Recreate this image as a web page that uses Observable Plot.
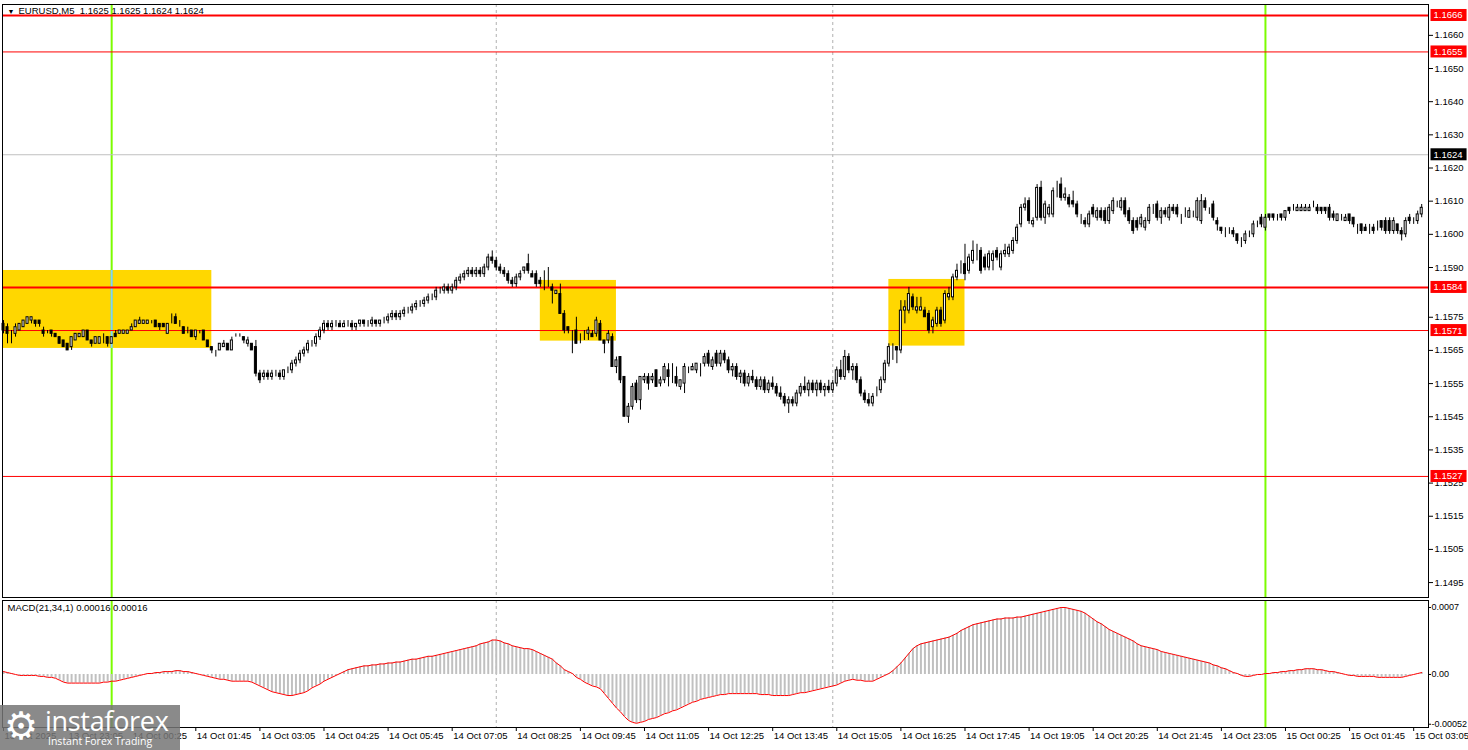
<!DOCTYPE html>
<html>
<head>
<meta charset="utf-8">
<script src="https://cdn.jsdelivr.net/npm/d3@7"></script>
<script src="https://cdn.jsdelivr.net/npm/@observablehq/plot@0.6"></script>
<style>
  html, body { margin: 0; padding: 0; background: #fff; }
  #chart { position: relative; width: 1468px; height: 750px; overflow: hidden; background: #fff; }
  #chart svg { position: absolute; left: 0; }
  #logo { position: absolute; left: 0; top: 705px; width: 180px; height: 45px; background: rgba(118,118,118,0.85); color: #fff; font-family: "Open Sans", "Liberation Sans", Arial, sans-serif; }
  #logo .gear { position: absolute; left: 4px; top: 2px; font-size: 38px; line-height: 38px; font-family: "DejaVu Sans", sans-serif; }
  #logo .big { position: absolute; left: 45px; top: 0px; font-size: 27px; line-height: 32px; letter-spacing: -0.3px; }
  #logo .small { position: absolute; left: 48px; top: 29px; font-size: 10.5px; line-height: 14px; }
</style>
</head>
<body>
<div id="chart"></div>
<script>
// ---------------- DATA (EURUSD, M5, bar 0 = 13 Oct 21:45) ----------------
const opens = [
1.1573,1.1572,1.1570,1.1570,1.1571,1.1572,1.1573,1.1574,1.1574,1.1574,
1.1571,1.1571,1.1571,1.1570,1.1569,1.1568,1.1567,1.1566,1.1568,1.1569,
1.1569,1.1571,1.1568,1.1567,1.1567,1.1569,1.1569,1.1567,1.1570,1.1570,
1.1570,1.1570,1.1571,1.1572,1.1573,1.1573,1.1573,1.1574,1.1574,1.1573,
1.1573,1.1570,1.1574,1.1575,1.1573,1.1572,1.1571,1.1571,1.1569,1.1571,
1.1571,1.1568,1.1566,1.1565,1.1565,1.1566,1.1567,1.1565,1.1569,1.1569,
1.1569,1.1567,1.1567,1.1566,1.1558,1.1557,1.1558,1.1557,1.1558,1.1558,
1.1557,1.1559,1.1559,1.1561,1.1562,1.1564,1.1565,1.1567,1.1567,1.1569,
1.1571,1.1573,1.1572,1.1573,1.1573,1.1572,1.1573,1.1573,1.1572,1.1573,
1.1574,1.1573,1.1573,1.1574,1.1573,1.1574,1.1574,1.1575,1.1576,1.1575,
1.1576,1.1577,1.1577,1.1578,1.1579,1.1579,1.1580,1.1581,1.1581,1.1583,
1.1583,1.1584,1.1583,1.1584,1.1586,1.1587,1.1588,1.1589,1.1588,1.1589,
1.1588,1.1590,1.1593,1.1592,1.1590,1.1589,1.1588,1.1586,1.1585,1.1587,
1.1589,1.1591,1.1588,1.1588,1.1586,1.1585,1.1585,1.1584,1.1582,1.1582,
1.1576,1.1572,1.1570,1.1571,1.1569,1.1570,1.1570,1.1570,1.1570,1.1573,
1.1568,1.1568,1.1569,1.1560,1.1563,1.1557,1.1545,1.1548,1.1555,1.1550,
1.1556,1.1557,1.1556,1.1559,1.1555,1.1556,1.1559,1.1557,1.1557,1.1554,
1.1555,1.1559,1.1559,1.1559,1.1560,1.1561,1.1564,1.1560,1.1564,1.1561,
1.1564,1.1562,1.1559,1.1560,1.1557,1.1558,1.1555,1.1557,1.1556,1.1554,
1.1556,1.1553,1.1555,1.1554,1.1552,1.1551,1.1549,1.1550,1.1549,1.1552,
1.1554,1.1553,1.1555,1.1553,1.1555,1.1553,1.1554,1.1553,1.1555,1.1559,
1.1557,1.1563,1.1559,1.1560,1.1556,1.1552,1.1550,1.1549,1.1552,1.1553,
1.1556,1.1561,1.1566,1.1566,1.1565,1.1577,1.1577,1.1581,1.1577,1.1577,
1.1577,1.1576,1.1572,1.1573,1.1577,1.1574,1.1581,1.1581,1.1587,1.1590,
1.1591,1.1589,1.1592,1.1594,1.1595,1.1593,1.1590,1.1592,1.1595,1.1590,
1.1594,1.1594,1.1595,1.1598,1.1603,1.1608,1.1610,1.1603,1.1605,1.1614,
1.1605,1.1606,1.1606,1.1613,1.1615,1.1611,1.1611,1.1610,1.1609,1.1605,
1.1604,1.1603,1.1608,1.1605,1.1607,1.1607,1.1604,1.1607,1.1609,1.1608,
1.1610,1.1607,1.1604,1.1604,1.1603,1.1602,1.1604,1.1607,1.1609,1.1605,
1.1607,1.1605,1.1608,1.1608,1.1605,1.1607,1.1605,1.1606,1.1605,1.1604,
1.1610,1.1607,1.1609,1.1604,1.1602,1.1601,1.1601,1.1601,1.1600,1.1598,
1.1598,1.1600,1.1600,1.1603,1.1605,1.1602,1.1606,1.1606,1.1605,1.1606,
1.1605,1.1608,1.1608,1.1607,1.1607,1.1607,1.1607,1.1608,1.1608,1.1608,
1.1608,1.1608,1.1606,1.1604,1.1605,1.1604,1.1606,1.1605,1.1602,1.1603,
1.1602,1.1602,1.1602,1.1602,1.1604,1.1604,1.1604,1.1601,1.1603,1.1601,
1.1600,1.1605,1.1604,1.1604,1.1606
];
const highs = [
1.1574,1.1573,1.1571,1.1573,1.1573,1.1574,1.1575,1.1575,1.1574,1.1574,
1.1572,1.1571,1.1571,1.1570,1.1569,1.1568,1.1567,1.1569,1.1570,1.1570,
1.1571,1.1571,1.1568,1.1569,1.1569,1.1570,1.1569,1.1569,1.1571,1.1571,
1.1571,1.1571,1.1573,1.1574,1.1575,1.1574,1.1574,1.1574,1.1574,1.1573,
1.1573,1.1573,1.1576,1.1576,1.1574,1.1572,1.1572,1.1571,1.1571,1.1571,
1.1571,1.1568,1.1566,1.1565,1.1567,1.1568,1.1567,1.1569,1.1570,1.1570,
1.1569,1.1569,1.1567,1.1568,1.1559,1.1559,1.1559,1.1559,1.1559,1.1559,
1.1559,1.1560,1.1562,1.1563,1.1565,1.1566,1.1568,1.1568,1.1570,1.1572,
1.1574,1.1574,1.1574,1.1574,1.1574,1.1574,1.1574,1.1574,1.1573,1.1574,
1.1574,1.1574,1.1575,1.1574,1.1574,1.1575,1.1576,1.1577,1.1577,1.1577,
1.1578,1.1578,1.1579,1.1580,1.1580,1.1581,1.1582,1.1582,1.1584,1.1584,
1.1585,1.1585,1.1585,1.1587,1.1588,1.1589,1.1590,1.1590,1.1590,1.1590,
1.1591,1.1594,1.1595,1.1593,1.1591,1.1590,1.1589,1.1587,1.1588,1.1589,
1.1590,1.1594,1.1589,1.1589,1.1587,1.1589,1.1590,1.1585,1.1583,1.1585,
1.1577,1.1572,1.1571,1.1575,1.1570,1.1571,1.1572,1.1571,1.1575,1.1574,
1.1568,1.1571,1.1570,1.1563,1.1563,1.1557,1.1549,1.1555,1.1556,1.1557,
1.1558,1.1558,1.1558,1.1559,1.1557,1.1561,1.1561,1.1561,1.1560,1.1556,
1.1561,1.1560,1.1561,1.1561,1.1561,1.1564,1.1565,1.1563,1.1565,1.1565,
1.1565,1.1563,1.1561,1.1561,1.1559,1.1559,1.1558,1.1559,1.1557,1.1557,
1.1557,1.1556,1.1557,1.1555,1.1554,1.1552,1.1551,1.1551,1.1553,1.1555,
1.1557,1.1556,1.1556,1.1556,1.1556,1.1555,1.1556,1.1556,1.1560,1.1562,
1.1565,1.1564,1.1561,1.1561,1.1557,1.1553,1.1552,1.1552,1.1554,1.1557,
1.1562,1.1567,1.1567,1.1566,1.1580,1.1580,1.1584,1.1582,1.1581,1.1581,
1.1578,1.1577,1.1575,1.1578,1.1578,1.1583,1.1584,1.1588,1.1591,1.1592,
1.1597,1.1594,1.1598,1.1597,1.1596,1.1594,1.1595,1.1595,1.1596,1.1595,
1.1597,1.1597,1.1599,1.1603,1.1609,1.1611,1.1611,1.1605,1.1615,1.1616,
1.1610,1.1609,1.1614,1.1616,1.1617,1.1614,1.1612,1.1613,1.1610,1.1606,
1.1605,1.1607,1.1609,1.1608,1.1608,1.1608,1.1609,1.1611,1.1610,1.1611,
1.1611,1.1608,1.1605,1.1605,1.1606,1.1605,1.1609,1.1609,1.1610,1.1608,
1.1608,1.1609,1.1609,1.1609,1.1606,1.1608,1.1608,1.1607,1.1611,1.1612,
1.1611,1.1608,1.1610,1.1605,1.1602,1.1602,1.1602,1.1602,1.1600,1.1599,
1.1601,1.1601,1.1604,1.1604,1.1606,1.1606,1.1606,1.1606,1.1606,1.1606,
1.1607,1.1608,1.1609,1.1609,1.1609,1.1609,1.1609,1.1610,1.1609,1.1608,
1.1608,1.1609,1.1607,1.1606,1.1606,1.1606,1.1606,1.1605,1.1603,1.1603,
1.1603,1.1603,1.1603,1.1604,1.1604,1.1605,1.1605,1.1605,1.1603,1.1602,
1.1605,1.1606,1.1605,1.1607,1.1609
];
const lows = [
1.1570,1.1567,1.1567,1.1569,1.1571,1.1572,1.1573,1.1573,1.1572,1.1572,
1.1569,1.1570,1.1569,1.1569,1.1567,1.1566,1.1565,1.1565,1.1568,1.1569,
1.1569,1.1568,1.1566,1.1567,1.1567,1.1567,1.1566,1.1567,1.1569,1.1570,
1.1570,1.1570,1.1571,1.1572,1.1573,1.1573,1.1573,1.1573,1.1572,1.1571,
1.1572,1.1570,1.1573,1.1573,1.1572,1.1570,1.1570,1.1569,1.1568,1.1570,
1.1568,1.1566,1.1564,1.1563,1.1565,1.1566,1.1565,1.1565,1.1569,1.1569,
1.1567,1.1566,1.1565,1.1557,1.1555,1.1556,1.1556,1.1556,1.1557,1.1556,
1.1556,1.1558,1.1558,1.1560,1.1561,1.1563,1.1564,1.1566,1.1566,1.1568,
1.1570,1.1571,1.1571,1.1572,1.1572,1.1572,1.1572,1.1571,1.1571,1.1572,
1.1572,1.1572,1.1572,1.1572,1.1572,1.1573,1.1573,1.1574,1.1574,1.1574,
1.1575,1.1576,1.1576,1.1577,1.1578,1.1578,1.1579,1.1580,1.1580,1.1582,
1.1582,1.1582,1.1582,1.1583,1.1585,1.1586,1.1587,1.1587,1.1587,1.1587,
1.1587,1.1589,1.1591,1.1589,1.1588,1.1587,1.1585,1.1584,1.1584,1.1586,
1.1588,1.1588,1.1587,1.1584,1.1584,1.1583,1.1584,1.1579,1.1582,1.1576,
1.1570,1.1570,1.1564,1.1567,1.1567,1.1568,1.1568,1.1569,1.1569,1.1568,
1.1564,1.1567,1.1560,1.1558,1.1555,1.1545,1.1543,1.1547,1.1549,1.1547,
1.1555,1.1553,1.1555,1.1554,1.1554,1.1555,1.1554,1.1555,1.1554,1.1553,
1.1552,1.1558,1.1559,1.1558,1.1557,1.1560,1.1560,1.1559,1.1560,1.1560,
1.1561,1.1558,1.1557,1.1556,1.1555,1.1554,1.1554,1.1555,1.1553,1.1553,
1.1552,1.1552,1.1553,1.1551,1.1550,1.1548,1.1546,1.1548,1.1548,1.1551,
1.1552,1.1551,1.1552,1.1551,1.1552,1.1551,1.1552,1.1552,1.1554,1.1556,
1.1556,1.1558,1.1556,1.1555,1.1551,1.1549,1.1548,1.1548,1.1551,1.1552,
1.1555,1.1560,1.1562,1.1561,1.1564,1.1573,1.1576,1.1577,1.1576,1.1577,
1.1575,1.1570,1.1570,1.1572,1.1572,1.1573,1.1580,1.1580,1.1586,1.1588,
1.1586,1.1588,1.1591,1.1592,1.1588,1.1589,1.1589,1.1589,1.1592,1.1589,
1.1593,1.1593,1.1594,1.1597,1.1602,1.1607,1.1603,1.1602,1.1604,1.1604,
1.1603,1.1605,1.1605,1.1611,1.1610,1.1610,1.1608,1.1608,1.1605,1.1603,
1.1602,1.1602,1.1605,1.1604,1.1604,1.1603,1.1603,1.1606,1.1608,1.1607,
1.1605,1.1603,1.1600,1.1601,1.1602,1.1601,1.1603,1.1606,1.1604,1.1603,
1.1605,1.1604,1.1606,1.1605,1.1603,1.1605,1.1605,1.1605,1.1604,1.1603,
1.1607,1.1606,1.1604,1.1601,1.1600,1.1599,1.1600,1.1599,1.1597,1.1596,
1.1597,1.1599,1.1599,1.1602,1.1602,1.1601,1.1604,1.1604,1.1604,1.1604,
1.1604,1.1606,1.1607,1.1607,1.1607,1.1607,1.1607,1.1608,1.1606,1.1606,
1.1606,1.1604,1.1604,1.1604,1.1604,1.1604,1.1603,1.1602,1.1600,1.1600,
1.1601,1.1600,1.1600,1.1601,1.1601,1.1600,1.1600,1.1600,1.1600,1.1598,
1.1599,1.1603,1.1603,1.1603,1.1605
];
const closes = [
1.1571,1.1570,1.1570,1.1572,1.1573,1.1574,1.1575,1.1575,1.1573,1.1573,
1.1570,1.1571,1.1570,1.1569,1.1567,1.1566,1.1565,1.1569,1.1570,1.1570,
1.1571,1.1568,1.1567,1.1569,1.1569,1.1569,1.1567,1.1569,1.1569,1.1571,
1.1571,1.1571,1.1572,1.1574,1.1574,1.1574,1.1574,1.1574,1.1572,1.1572,
1.1572,1.1573,1.1574,1.1573,1.1573,1.1570,1.1571,1.1569,1.1571,1.1571,
1.1568,1.1566,1.1565,1.1565,1.1567,1.1567,1.1565,1.1568,1.1569,1.1569,
1.1568,1.1568,1.1565,1.1558,1.1556,1.1558,1.1557,1.1558,1.1558,1.1557,
1.1559,1.1559,1.1561,1.1562,1.1564,1.1565,1.1567,1.1567,1.1569,1.1571,
1.1573,1.1572,1.1573,1.1573,1.1572,1.1573,1.1573,1.1572,1.1573,1.1574,
1.1573,1.1573,1.1574,1.1573,1.1574,1.1574,1.1575,1.1576,1.1575,1.1576,
1.1577,1.1577,1.1578,1.1579,1.1579,1.1580,1.1581,1.1581,1.1583,1.1583,
1.1584,1.1583,1.1584,1.1586,1.1587,1.1588,1.1589,1.1588,1.1589,1.1588,
1.1590,1.1593,1.1592,1.1590,1.1589,1.1588,1.1586,1.1585,1.1587,1.1588,
1.1590,1.1589,1.1587,1.1585,1.1585,1.1585,1.1585,1.1583,1.1583,1.1576,
1.1571,1.1571,1.1570,1.1567,1.1569,1.1570,1.1571,1.1569,1.1574,1.1568,
1.1567,1.1570,1.1560,1.1562,1.1556,1.1545,1.1548,1.1554,1.1550,1.1557,
1.1557,1.1555,1.1557,1.1554,1.1556,1.1560,1.1557,1.1557,1.1555,1.1556,
1.1560,1.1559,1.1560,1.1561,1.1560,1.1563,1.1561,1.1562,1.1561,1.1564,
1.1562,1.1559,1.1560,1.1557,1.1558,1.1555,1.1557,1.1556,1.1554,1.1556,
1.1553,1.1555,1.1554,1.1552,1.1551,1.1549,1.1550,1.1549,1.1552,1.1554,
1.1553,1.1555,1.1553,1.1555,1.1553,1.1554,1.1553,1.1555,1.1559,1.1557,
1.1563,1.1559,1.1560,1.1556,1.1552,1.1550,1.1549,1.1551,1.1552,1.1556,
1.1561,1.1566,1.1566,1.1565,1.1577,1.1578,1.1582,1.1578,1.1578,1.1578,
1.1575,1.1571,1.1574,1.1577,1.1573,1.1582,1.1582,1.1587,1.1589,1.1590,
1.1588,1.1593,1.1595,1.1594,1.1589,1.1590,1.1594,1.1594,1.1593,1.1594,
1.1595,1.1596,1.1598,1.1602,1.1608,1.1609,1.1604,1.1604,1.1614,1.1605,
1.1609,1.1608,1.1613,1.1613,1.1611,1.1612,1.1609,1.1609,1.1606,1.1605,
1.1603,1.1606,1.1606,1.1607,1.1605,1.1604,1.1608,1.1610,1.1609,1.1610,
1.1606,1.1604,1.1601,1.1602,1.1605,1.1604,1.1608,1.1607,1.1605,1.1607,
1.1606,1.1608,1.1607,1.1606,1.1605,1.1607,1.1607,1.1606,1.1610,1.1610,
1.1608,1.1607,1.1605,1.1603,1.1601,1.1601,1.1601,1.1600,1.1598,1.1598,
1.1600,1.1600,1.1603,1.1603,1.1603,1.1605,1.1605,1.1605,1.1605,1.1605,
1.1607,1.1607,1.1608,1.1608,1.1608,1.1608,1.1608,1.1608,1.1607,1.1607,
1.1607,1.1605,1.1605,1.1606,1.1605,1.1605,1.1604,1.1603,1.1602,1.1601,
1.1601,1.1602,1.1601,1.1602,1.1602,1.1601,1.1601,1.1604,1.1601,1.1600,
1.1604,1.1604,1.1604,1.1606,1.1608
];
// MACD(21,34,1) main line = signal (signal period 1)
const macd = [
0.00003,0.00002,0.00001,0,-0.00001,-0.00001,-0.00001,-0.00001,-0.00001,-0.00002,
-0.00002,-0.00003,-0.00003,-0.00004,-0.00006,-0.00008,-0.00009,-0.00009,-0.00009,-0.00009,
-0.00009,-0.00009,-0.00009,-0.00009,-0.00009,-0.00008,-0.00008,-0.00007,-0.00007,-0.00006,
-0.00005,-0.00004,-0.00003,-0.00002,-0.00001,0,0.00001,0.00001,0.00002,0.00002,
0.00003,0.00003,0.00003,0.00004,0.00004,0.00003,0.00003,0.00002,0.00001,0,
-0.00001,-0.00002,-0.00003,-0.00004,-0.00005,-0.00005,-0.00006,-0.00007,-0.00007,-0.00007,
-0.00007,-0.00007,-0.00008,-0.0001,-0.00012,-0.00014,-0.00016,-0.00018,-0.00019,-0.0002,
-0.00021,-0.00022,-0.00022,-0.00021,-0.0002,-0.00019,-0.00017,-0.00014,-0.00012,-0.0001,
-0.00007,-0.00005,-0.00003,-0.00001,0.00001,0.00003,0.00005,0.00006,0.00007,0.00008,
0.00009,0.00009,0.0001,0.0001,0.00011,0.00011,0.00012,0.00012,0.00013,0.00013,
0.00014,0.00015,0.00016,0.00016,0.00017,0.00018,0.00019,0.00019,0.0002,0.00021,
0.00022,0.00023,0.00024,0.00025,0.00026,0.00027,0.00028,0.00029,0.0003,0.00032,
0.00033,0.00034,0.00036,0.00036,0.00035,0.00033,0.00032,0.0003,0.00029,0.00028,
0.00027,0.00027,0.00026,0.00024,0.00022,0.0002,0.00018,0.00016,0.00012,0.00009,
0.00005,0.00003,0.00001,-0.00003,-0.00005,-0.00008,-0.0001,-0.00012,-0.00013,-0.00015,
-0.0002,-0.00025,-0.0003,-0.00035,-0.00039,-0.00044,-0.00048,-0.0005,-0.00051,-0.0005,
-0.00049,-0.00047,-0.00046,-0.00045,-0.00043,-0.00041,-0.0004,-0.00038,-0.00037,-0.00035,
-0.00033,-0.00031,-0.00029,-0.00028,-0.00026,-0.00025,-0.00024,-0.00023,-0.00022,-0.00021,
-0.00021,-0.0002,-0.0002,-0.0002,-0.0002,-0.0002,-0.0002,-0.0002,-0.0002,-0.00021,
-0.00021,-0.00021,-0.00022,-0.00022,-0.00022,-0.00022,-0.00022,-0.00021,-0.0002,-0.00019,
-0.00019,-0.00018,-0.00017,-0.00016,-0.00015,-0.00014,-0.00013,-0.00012,-0.00011,-0.00009,
-0.00007,-0.00006,-0.00005,-0.00006,-0.00006,-0.00007,-0.00007,-0.00007,-0.00005,-0.00003,
-0.00001,0.00001,0.00004,0.00008,0.00012,0.00017,0.00022,0.00027,0.0003,0.00032,
0.00033,0.00034,0.00035,0.00036,0.00037,0.00038,0.00039,0.00041,0.00043,0.00046,
0.00048,0.0005,0.00052,0.00053,0.00054,0.00055,0.00056,0.00057,0.00058,0.00058,
0.00059,0.00059,0.00059,0.0006,0.0006,0.00061,0.00062,0.00063,0.00064,0.00065,
0.00066,0.00067,0.00068,0.00069,0.0007,0.0007,0.00069,0.00068,0.00067,0.00066,
0.00064,0.00061,0.00058,0.00055,0.00053,0.0005,0.00047,0.00045,0.00043,0.00041,
0.00039,0.00037,0.00035,0.00032,0.0003,0.00029,0.00028,0.00027,0.00026,0.00024,
0.00023,0.00022,0.00021,0.0002,0.00019,0.00018,0.00017,0.00016,0.00015,0.00014,
0.00013,0.00012,0.0001,0.00009,0.00007,0.00006,0.00004,0.00002,0.00001,-0.00001,
-0.00002,-0.00002,-0.00001,0,0,0.00001,0.00001,0.00002,0.00002,0.00003,
0.00003,0.00004,0.00004,0.00005,0.00005,0.00006,0.00006,0.00006,0.00005,0.00005,
0.00004,0.00003,0.00003,0.00002,0.00001,0,-0.00001,-0.00001,-0.00002,-0.00002,
-0.00002,-0.00002,-0.00002,-0.00003,-0.00003,-0.00003,-0.00003,-0.00003,-0.00003,-0.00003,
-0.00002,-0.00001,0,0.00001,0.00002
];

// Horizontal levels (red), bid line, boxes, separators
const levelPrices = [1.1666, 1.1655, 1.1584, 1.1571, 1.1527];
const levelWidths = [2, 1, 2, 1, 1];
const bidPrice = 1.1624;
const boxStart = [0, 134, 221];
const boxEnd = [52, 153, 240];
const boxTop = [1.15891, 1.15861, 1.15864];
const boxBottom = [1.15656, 1.15678, 1.15663];
const dayBars = [27, 315];       // 14 Oct 00:00, 15 Oct 00:00
const sessionBars = [123, 207];  // 14 Oct 08:00, 14 Oct 15:00

// Axis ticks
const priceTicks = [1.1660,1.1650,1.1640,1.1630,1.1620,1.1610,1.1600,1.1590,1.1575,1.1565,1.1555,1.1545,1.1535,1.1525,1.1515,1.1505,1.1495];
const macdTicks = [0.0007, 0, -0.00052];
const macdTickLabels = ["0.0007", "0.00", "-0.00052"];
const tickBars = [0,16,32,48,64,80,96,112,128,144,160,176,192,208,224,240,256,272,288,304,320,336,352];
const tickLabels = ["13 Oct 2025","13 Oct 23:05","14 Oct 00:25","14 Oct 01:45","14 Oct 03:05","14 Oct 04:25","14 Oct 05:45","14 Oct 07:05","14 Oct 08:25","14 Oct 09:45","14 Oct 11:05","14 Oct 12:25","14 Oct 13:45","14 Oct 15:05","14 Oct 16:25","14 Oct 17:45","14 Oct 19:05","14 Oct 20:25","14 Oct 21:45","14 Oct 23:05","15 Oct 00:25","15 Oct 01:45","15 Oct 03:05"];
const headerText = "EURUSD,M5  1.1625 1.1625 1.1624 1.1624";
const macdTitle = "MACD(21,34,1) 0.00016 0.00016";

// ---------------- BUILD ----------------
const FONT = "'Liberation Sans', Arial, sans-serif";
const X_DOMAIN = [-0.25, 355.7];
const bars = opens.map((o, i) => ({i, o, h: highs[i], l: lows[i], c: closes[i]}));
const boxes = boxStart.map((s, k) => ({s, e: boxEnd[k], top: boxTop[k], bottom: boxBottom[k]}));
const levels = levelPrices.map((p, k) => ({p, w: levelWidths[k]}));
const dayInBox = dayBars.flatMap(x => boxes.filter(b => b.s <= x && x <= b.e).map(b => ({x, top: b.top, bottom: b.bottom})));
const macdRows = macd.map((v, i) => ({i, v}));

const styleObj = {fontFamily: FONT, fontSize: "9.5px", background: "white", color: "black", overflow: "visible"};

const mainPlot = Plot.plot({
  width: 1468, height: 598,
  marginLeft: 2, marginRight: 40, marginTop: 4, marginBottom: 1,
  x: {domain: X_DOMAIN, axis: null},
  y: {domain: [1.14905, 1.16693], axis: null},
  style: styleObj,
  marks: [
    Plot.rect(boxes, {x1: "s", x2: "e", y1: "bottom", y2: "top", fill: "#FFD700"}),
    Plot.ruleX(sessionBars, {x: d => d, stroke: "#b0b0b0", strokeDasharray: "3,3"}),
    Plot.ruleX(dayBars, {x: d => d, stroke: "#7CFC00", strokeWidth: 2}),
    Plot.ruleX(dayInBox, {x: "x", y1: "bottom", y2: "top", stroke: "#87CEFA", strokeWidth: 2}),
    Plot.ruleY([bidPrice], {y: d => d, stroke: "#c0c0c0"}),
    Plot.ruleY(levels, {y: "p", stroke: "#FF0000", strokeWidth: "w"}),
    Plot.ruleX(bars, {x: "i", y1: "l", y2: "h", stroke: "black", strokeWidth: 1}),
    Plot.rect(bars, {filter: d => d.c >= d.o, x1: d => d.i - 0.25, x2: d => d.i + 0.25, y1: "o", y2: "c", fill: "white", stroke: "black", strokeWidth: 1}),
    Plot.rect(bars, {filter: d => d.c < d.o, x1: d => d.i - 0.25, x2: d => d.i + 0.25, y1: "o", y2: "c", fill: "black", stroke: "black", strokeWidth: 1}),
    Plot.frame({stroke: "black"}),
    Plot.axisY({anchor: "right", ticks: priceTicks, tickFormat: d => d.toFixed(4), tickSize: 4, tickPadding: 2, label: null}),
    Plot.text(levels, {y: "p", text: d => d.p.toFixed(4), frameAnchor: "right", dx: 5, textAnchor: "start", fill: "white", ariaLabel: () => "level-label"}),
    Plot.text([bidPrice], {y: d => d, text: d => d.toFixed(4), frameAnchor: "right", dx: 5, textAnchor: "start", fill: "white", ariaLabel: () => "bid-label"}),
    Plot.text([headerText], {text: d => d, frameAnchor: "top-left", dx: 16, dy: 3, lineAnchor: "top", textAnchor: "start", fill: "black"}),
    Plot.text(["▼"], {text: d => d, frameAnchor: "top-left", dx: 5, dy: 5, lineAnchor: "top", textAnchor: "start", fontSize: 7, fill: "black"})
  ]
});

const macdPlot = Plot.plot({
  width: 1468, height: 152,
  marginLeft: 2, marginRight: 40, marginTop: 2, marginBottom: 23,
  x: {domain: X_DOMAIN, axis: null},
  y: {domain: [-0.000554, 0.000773], axis: null},
  style: styleObj,
  marks: [
    Plot.ruleX(sessionBars, {x: d => d, stroke: "#b0b0b0", strokeDasharray: "3,3"}),
    Plot.ruleX(dayBars, {x: d => d, stroke: "#7CFC00", strokeWidth: 2}),
    Plot.ruleX(macdRows, {x: "i", y1: 0, y2: "v", stroke: "#c0c0c0", strokeWidth: 2}),
    Plot.line(macdRows, {x: "i", y: "v", stroke: "#FF0000", strokeWidth: 1}),
    Plot.frame({stroke: "black"}),
    Plot.axisY({anchor: "right", ticks: macdTicks, tickFormat: d => macdTickLabels[macdTicks.indexOf(d)], tickSize: 2, tickPadding: 1, fontSize: 9, label: null}),
    Plot.axisX({anchor: "bottom", ticks: tickBars, tickSize: 4, tickFormat: () => "", label: null}),
    Plot.text(tickBars, {x: d => d, text: d => tickLabels[tickBars.indexOf(d)], frameAnchor: "bottom", textAnchor: "start", lineAnchor: "top", dx: 1, dy: 5, fill: "black"}),
    Plot.text([macdTitle], {text: d => d, frameAnchor: "top-left", dx: 5, dy: 4, lineAnchor: "top", textAnchor: "start", fill: "black"})
  ]
});

const chart = document.getElementById("chart");
mainPlot.style.top = "0px";
macdPlot.style.top = "598px";
chart.appendChild(mainPlot);
chart.appendChild(macdPlot);

// label backgrounds sized from the rendered text
function boxLabels(svg, label, fill) {
  svg.querySelectorAll(`text[aria-label="${label}"]`).forEach(t => {
    const b = t.getBBox();
    const r = document.createElementNS("http://www.w3.org/2000/svg", "rect");
    r.setAttribute("x", b.x - 3);
    r.setAttribute("y", b.y - 0.5);
    r.setAttribute("width", b.width + 7);
    r.setAttribute("height", b.height + 1);
    r.setAttribute("fill", fill);
    const tr = t.getAttribute("transform");
    if (tr) r.setAttribute("transform", tr);
    t.parentNode.insertBefore(r, t);
  });
}
boxLabels(mainPlot, "level-label", "#FF0000");
boxLabels(mainPlot, "bid-label", "#000000");

// watermark
const logo = document.createElement("div");
logo.id = "logo";
logo.innerHTML = '<span class="gear">⚙</span><span class="big">instaforex</span><span class="small">Instant Forex Trading</span>';
chart.appendChild(logo);
</script>
</body>
</html>
